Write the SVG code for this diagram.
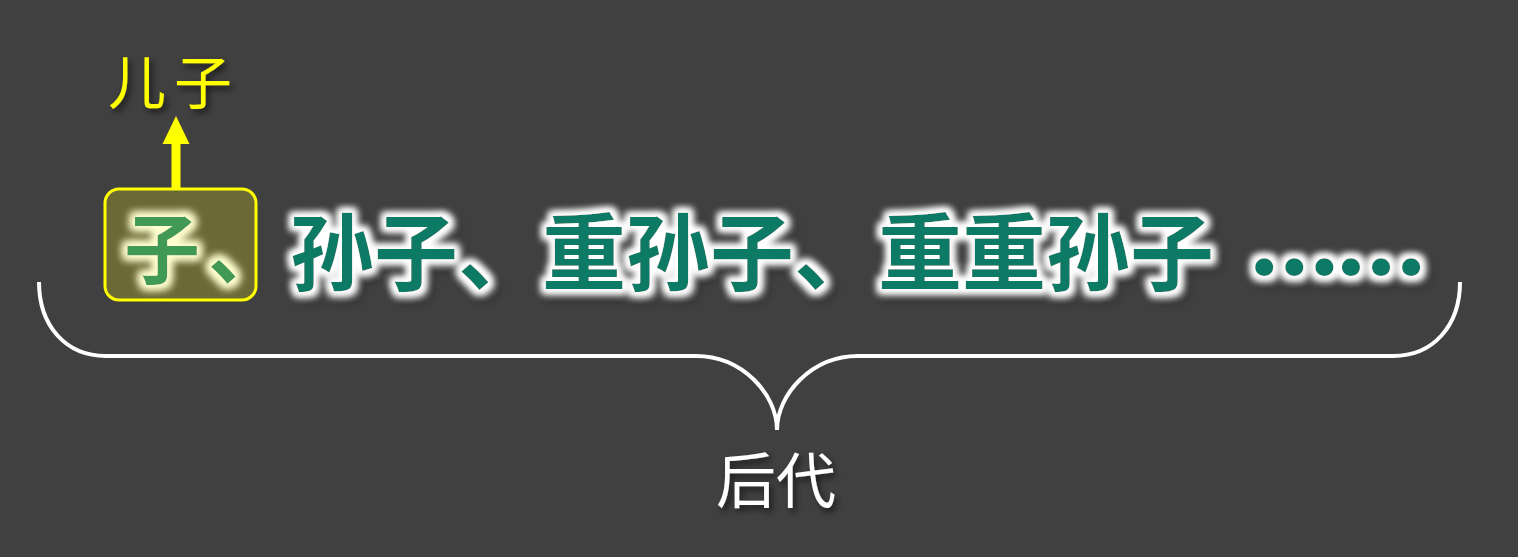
<svg xmlns="http://www.w3.org/2000/svg" width="1518" height="557" viewBox="0 0 1518 557">
<style>
.cjk{font-family:"Noto Sans CJK SC","Noto Sans",sans-serif}
.main{font-weight:bold;font-size:84px;fill:#0F7A66}
.boxed{font-weight:bold;font-size:76px;fill:#3F9A56}
.label{font-size:58px}
</style>
<defs>
<filter id="glow" x="-20%" y="-40%" width="140%" height="180%">
<feMorphology in="SourceAlpha" operator="dilate" radius="3.5" result="d"/>
<feGaussianBlur in="d" stdDeviation="3.5" result="b"/>
<feOffset in="b" dx="4" dy="5" result="so"/>
<feGaussianBlur in="so" stdDeviation="4" result="sb"/>
<feFlood flood-color="#000" flood-opacity="0.45"/>
<feComposite in2="sb" operator="in" result="shadow"/>
<feFlood flood-color="#fff"/>
<feComposite in2="b" operator="in" result="g"/>
<feMerge><feMergeNode in="shadow"/><feMergeNode in="g"/><feMergeNode in="g"/><feMergeNode in="SourceGraphic"/></feMerge>
</filter>
<filter id="glowY" x="-20%" y="-40%" width="140%" height="180%">
<feMorphology in="SourceAlpha" operator="dilate" radius="3.5" result="d"/>
<feGaussianBlur in="d" stdDeviation="4" result="b"/>
<feFlood flood-color="#FFFFD0"/>
<feComposite in2="b" operator="in" result="g"/>
<feMerge><feMergeNode in="g"/><feMergeNode in="g"/><feMergeNode in="SourceGraphic"/></feMerge>
</filter>
<filter id="shadow" x="-20%" y="-30%" width="150%" height="170%">
<feGaussianBlur in="SourceAlpha" stdDeviation="3" result="b"/>
<feOffset in="b" dx="3" dy="4" result="o"/>
<feFlood flood-color="#000" flood-opacity="0.6"/>
<feComposite in2="o" operator="in" result="s"/>
<feMerge><feMergeNode in="s"/><feMergeNode in="SourceGraphic"/></feMerge>
</filter>
</defs>
<rect width="1518" height="557" fill="#404040"/>
<g id="connectors">
<line x1="176" y1="188" x2="176" y2="143" stroke="#FFFF00" stroke-width="9"/>
<path d="M162.5,144 L176,116 L189.5,144 Z" fill="#FFFF00"/>
<path d="M39,282 C39,326 66,356 106,356 L696,356 C742,356 777,394 777,430 C777,394 812,356 858,356 L1393,356 C1433,356 1460,326 1460,282" fill="none" stroke="#FFFFFF" stroke-width="4"/>
</g>
<g id="son-label">
<text class="cjk label" x="174" y="104" text-anchor="middle" fill="#FFFF00" letter-spacing="8" filter="url(#shadow)">儿子</text>
</g>
<g id="son-box">
<rect x="105" y="189" width="151" height="111" rx="14" fill="#6B6934" stroke="#FFFF00" stroke-width="3"/>
<text class="cjk boxed" y="278" filter="url(#glowY)"><tspan x="124">子</tspan><tspan x="208">、</tspan></text>
</g>
<g id="descendants">
<text class="cjk main" x="290" y="284" filter="url(#glow)">孙子、重孙子、重重孙子</text>
<text x="1251" y="275" font-family="Lato,'Noto Sans',sans-serif" font-weight="900" font-size="111" fill="#0F7A66" filter="url(#glow)">……</text>
</g>
<g id="descendants-label">
<text class="cjk" x="776" y="503" font-size="60" text-anchor="middle" fill="#FFFFFF" filter="url(#shadow)">后代</text>
</g>
</svg>
